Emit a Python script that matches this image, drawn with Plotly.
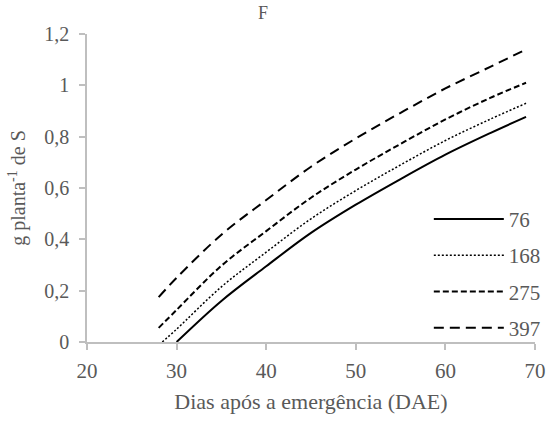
import plotly.graph_objects as go

# Days after emergence (DAE) sampled along each fitted curve
dae_76 = [30, 35, 40, 45, 50, 55, 60, 65, 69]
val_76 = [0.0, 0.16, 0.295, 0.425, 0.535, 0.635, 0.73, 0.814, 0.877]

dae_168 = [28.4, 30, 35, 40, 45, 50, 55, 60, 65, 69]
val_168 = [0.0, 0.05, 0.215, 0.35, 0.48, 0.59, 0.69, 0.785, 0.868, 0.93]

dae_275 = [28, 30, 35, 40, 45, 50, 55, 60, 65, 69]
val_275 = [0.055, 0.125, 0.297, 0.432, 0.562, 0.672, 0.772, 0.867, 0.951, 1.01]

dae_397 = [28, 30, 35, 40, 45, 50, 55, 60, 65, 69]
val_397 = [0.175, 0.25, 0.418, 0.553, 0.683, 0.793, 0.893, 0.988, 1.072, 1.14]

series_names = ["76", "168", "275", "397"]

FONT = "'Liberation Serif', 'Times New Roman', 'DejaVu Serif', serif"
GREY_TXT = "#595959"
GREY_AX = "#bfbfbf"

styles = [
    dict(width=2, dash="solid"),
    dict(width=1.5, dash="2px,2px"),
    dict(width=2, dash="6px,3px"),
    dict(width=2, dash="10px,6px"),
]

fig = go.Figure()
for i, (xs, ys) in enumerate([(dae_76, val_76), (dae_168, val_168),
                               (dae_275, val_275), (dae_397, val_397)]):
    fig.add_trace(go.Scatter(
        x=xs, y=ys, mode="lines", name=series_names[i],
        line=dict(color="black", shape="spline", **styles[i]),
        legendgroup=series_names[i],
    ))

axis_common = dict(
    showline=True, linecolor=GREY_AX, linewidth=1.5,
    ticks="outside", tickcolor=GREY_AX, ticklen=6, tickwidth=1.5,
    showgrid=False, zeroline=False,
)

fig.update_layout(
    width=547, height=423,
    margin=dict(l=87, r=12, t=34, b=81, autoexpand=False),
    paper_bgcolor="white", plot_bgcolor="white",
    separators=",.",
    font=dict(family=FONT, color=GREY_TXT, size=20),
    xaxis=dict(range=[20, 70], dtick=10, tick0=20,
               tickfont=dict(family=FONT, size=21, color=GREY_TXT),
               ticklabelstandoff=3,
               title=dict(text="Dias após a emergência (DAE)",
                          font=dict(family=FONT, size=22, color=GREY_TXT),
                          standoff=12),
               **axis_common),
    yaxis=dict(range=[0, 1.2], dtick=0.2, tick0=0,
               tickfont=dict(family=FONT, size=20, color=GREY_TXT),
               ticklabelstandoff=6,
               title=dict(text="g planta<sup>-1</sup> de S",
                          font=dict(family=FONT, size=20, color=GREY_TXT),
                          standoff=13),
               **axis_common),
    legend=dict(x=0.763, y=0.465, xanchor="left", yanchor="top",
                bgcolor="rgba(0,0,0,0)", tracegroupgap=6,
                itemwidth=70,
                font=dict(family=FONT, size=21, color=GREY_TXT)),
    annotations=[dict(text="F", xref="paper", yref="paper",
                      x=0.393, y=1.0, yshift=21, xanchor="center", yanchor="middle",
                      showarrow=False,
                      font=dict(family=FONT, size=18, color=GREY_TXT))],
)

fig.write_html("out.html")
